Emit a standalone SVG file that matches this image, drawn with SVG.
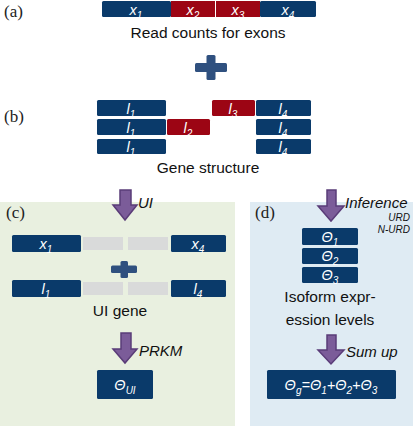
<svg xmlns="http://www.w3.org/2000/svg" width="413" height="426" viewBox="0 0 413 426">
<style>
.b{fill:#0a3a6a}
.r{fill:#9c0514}
.g{fill:#d9dada}
.bt{font-family:"Liberation Sans",Arial,sans-serif;font-style:italic;fill:#fff;font-size:14.5px;text-anchor:middle}
.sub{font-size:10px}
.lab{font-family:"Liberation Serif","Times New Roman",serif;font-size:17px;fill:#222}
.cap{font-family:"Liberation Sans",Arial,sans-serif;font-size:15.5px;fill:#111;text-anchor:middle}
.it{font-family:"Liberation Sans",Arial,sans-serif;font-style:italic;font-size:15px;fill:#111}
.sm{font-family:"Liberation Sans",Arial,sans-serif;font-style:italic;font-size:10px;fill:#111;text-anchor:end}
.plus{fill:#2f507f}
.arr{fill:#7b5c99;stroke:#5a3c78;stroke-width:1.5;stroke-linejoin:miter}
</style>
<rect width="413" height="426" fill="#fff"/>
<rect id="panel-c" x="0" y="202" width="235" height="224" fill="#e9f0e0"/>
<rect id="panel-d" x="250" y="202" width="163" height="224" fill="#dfebf3"/>

<g id="label-a"><text class="lab" x="4" y="17">(a)</text></g>
<g id="exons">
<rect class="b" x="102" y="1" width="69" height="16" rx="1.5"/>
<rect class="r" x="171" y="1" width="44" height="16"/>
<rect class="r" x="216" y="1" width="44" height="16"/>
<rect class="b" x="260" y="1" width="56" height="16" rx="1.5"/>
<text class="bt" x="136" y="15">x<tspan class="sub" dy="4">1</tspan></text>
<text class="bt" x="193" y="15">x<tspan class="sub" dy="4">2</tspan></text>
<text class="bt" x="238" y="15">x<tspan class="sub" dy="4">3</tspan></text>
<text class="bt" x="288" y="15">x<tspan class="sub" dy="4">4</tspan></text>
</g>
<g id="caption-a"><text class="cap" x="208" y="38">Read counts for exons</text></g>
<g id="plus-1"><rect class="plus" x="195" y="63" width="32" height="9" rx="1.5"/><rect class="plus" x="206.5" y="55" width="9" height="25" rx="1.5"/></g>

<g id="label-b"><text class="lab" x="4" y="122">(b)</text></g>
<g id="gene-structure">
<rect class="b" x="97" y="100" width="69" height="16" rx="1.5"/>
<rect class="b" x="97" y="119" width="69" height="16" rx="1.5"/>
<rect class="b" x="97" y="139" width="69" height="15" rx="1.5"/>
<rect class="r" x="167" y="119" width="43" height="16" rx="1.5"/>
<rect class="r" x="212" y="100" width="43" height="16" rx="1.5"/>
<rect class="b" x="256" y="100" width="55" height="16" rx="1.5"/>
<rect class="b" x="256" y="119" width="55" height="16" rx="1.5"/>
<rect class="b" x="256" y="139" width="55" height="15" rx="1.5"/>
<text class="bt" x="131" y="114">l<tspan class="sub" dy="4">1</tspan></text>
<text class="bt" x="131" y="133">l<tspan class="sub" dy="4">1</tspan></text>
<text class="bt" x="131" y="152">l<tspan class="sub" dy="4">1</tspan></text>
<text class="bt" x="188" y="133">l<tspan class="sub" dy="4">2</tspan></text>
<text class="bt" x="233" y="114">l<tspan class="sub" dy="4">3</tspan></text>
<text class="bt" x="283" y="114">l<tspan class="sub" dy="4">4</tspan></text>
<text class="bt" x="283" y="133">l<tspan class="sub" dy="4">4</tspan></text>
<text class="bt" x="283" y="152">l<tspan class="sub" dy="4">4</tspan></text>
</g>
<g id="caption-b"><text class="cap" x="208" y="173">Gene structure</text></g>

<g id="label-c"><text class="lab" x="6" y="218">(c)</text></g>
<g id="ui-exons">
<rect class="b" x="12" y="235" width="69" height="17" rx="1.5"/>
<rect class="g" x="83" y="237" width="40" height="13"/>
<rect class="g" x="128" y="237" width="40" height="13"/>
<rect class="b" x="171" y="235" width="55" height="17" rx="1.5"/>
<text class="bt" x="46" y="249">x<tspan class="sub" dy="4">1</tspan></text>
<text class="bt" x="198" y="249">x<tspan class="sub" dy="4">4</tspan></text>
</g>
<g id="plus-2"><rect class="plus" x="111" y="265.5" width="26" height="7.5" rx="1.5"/><rect class="plus" x="120.5" y="261" width="7.5" height="17" rx="1.5"/></g>
<g id="ui-structure">
<rect class="b" x="12" y="280" width="69" height="17" rx="1.5"/>
<rect class="g" x="83" y="282" width="40" height="13"/>
<rect class="g" x="128" y="282" width="40" height="13"/>
<rect class="b" x="171" y="280" width="55" height="17" rx="1.5"/>
<text class="bt" x="46" y="294">l<tspan class="sub" dy="4">1</tspan></text>
<text class="bt" x="198" y="294">l<tspan class="sub" dy="4">4</tspan></text>
</g>
<g id="caption-c"><text class="cap" x="120" y="316">UI gene</text></g>
<g id="theta-ui">
<rect class="b" x="97" y="370" width="56" height="29" rx="1.5"/>
<text class="bt" x="125" y="390" font-size="15">Θ<tspan class="sub" dy="4">UI</tspan></text>
</g>

<g id="label-d"><text class="lab" x="255" y="218">(d)</text></g>
<g id="isoforms">
<rect class="b" x="302" y="228" width="56" height="17" rx="1.5"/>
<rect class="b" x="302" y="248" width="56" height="16" rx="1.5"/>
<rect class="b" x="302" y="267" width="56" height="16" rx="1.5"/>
<text class="bt" x="330" y="242">Θ<tspan class="sub" dy="4">1</tspan></text>
<text class="bt" x="330" y="261">Θ<tspan class="sub" dy="4">2</tspan></text>
<text class="bt" x="330" y="280">Θ<tspan class="sub" dy="4">3</tspan></text>
</g>
<g id="caption-d"><text class="cap" x="330" y="302">Isoform expr-</text><text class="cap" x="330" y="325">ession levels</text></g>
<g id="theta-g">
<rect class="b" x="267" y="370" width="129" height="29" rx="1.5"/>
<text class="bt" x="331" y="390" font-size="15">Θ<tspan class="sub" dy="4">g</tspan><tspan dy="-4">=Θ</tspan><tspan class="sub" dy="4">1</tspan><tspan dy="-4">+Θ</tspan><tspan class="sub" dy="4">2</tspan><tspan dy="-4">+Θ</tspan><tspan class="sub" dy="4">3</tspan></text>
</g>

<g id="connectors">
<path class="arr" d="M120 190H131V205H137L125 220L113 205H120Z"/>
<path class="arr" d="M121 333H131V349H137L125 363L113 349H121Z"/>
<path class="arr" d="M327 190H336V206H344L331 221L318 206H327Z"/>
<path class="arr" d="M327 335H336V350H344L331 364L318 350H327Z"/>
<text class="it" x="138" y="208">UI</text>
<text class="it" x="139" y="356">PRKM</text>
<text class="it" x="345" y="208">Inference</text>
<text class="sm" x="410" y="221">URD</text>
<text class="sm" x="410" y="233">N-URD</text>
<text class="it" x="346" y="357">Sum up</text>
</g>
</svg>
